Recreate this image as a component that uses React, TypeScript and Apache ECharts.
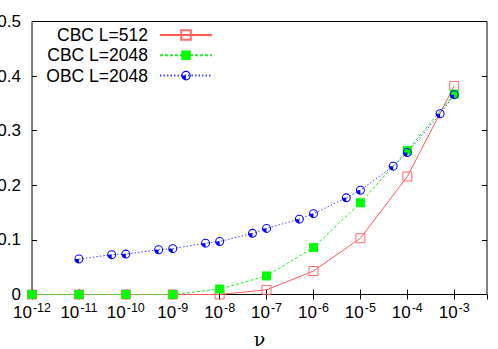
import React, { useEffect, useRef } from 'react';
import * as echarts from 'echarts';

// nu values (x) and order parameter values (y)
const cbcNu = [1e-12, 1e-11, 1e-10, 1e-9, 1e-8, 1e-7, 1e-6, 1e-5, 1e-4, 1e-3];
const cbc512 = [0, 0, 0, 0, 0, 0.0086, 0.043, 0.103, 0.216, 0.382];
const cbc2048 = [0, 0, 0, 0, 0.010, 0.034, 0.086, 0.168, 0.264, 0.367];
const obcNu = [1e-11, 5e-11, 1e-10, 5e-10, 1e-9, 5e-9, 1e-8, 5e-8, 1e-7, 5e-7, 1e-6, 5e-6, 1e-5, 5e-5, 1e-4, 5e-4, 1e-3];
const obc2048 = [0.065, 0.073, 0.074, 0.082, 0.084, 0.094, 0.097, 0.112, 0.121, 0.138, 0.148, 0.177, 0.191, 0.235, 0.26, 0.331, 0.366];
const seriesNames = ['CBC L=512', 'CBC L=2048', 'OBC L=2048'];
const xMin = 1e-12;
const xMax = 5e-3;
const yMin = 0;
const yMax = 0.5;
const yStep = 0.1;

const FONT = 'Liberation Sans';
const OBC_SYMBOL =
  'path://M0 10A10 10 0 1 1 20 10A10 10 0 1 1 0 10Z M2.3 10A7.7 7.7 0 1 0 17.7 10A7.7 7.7 0 1 0 2.3 10Z M10 10L2.3 10A7.7 7.7 0 0 0 10 17.7Z';

const zip = (xs: number[], ys: number[]) => xs.map((x, i) => [x, ys[i]]);

export default function App() {
  const ref = useRef<HTMLDivElement>(null);
  useEffect(() => {
    if (!ref.current) return;
    const chart = echarts.init(ref.current, null, { renderer: 'svg' });
    const tickCommon = { show: true, inside: true, length: 5, lineStyle: { color: '#000', width: 1 } };
    chart.setOption({
      animation: false,
      backgroundColor: '#fff',
      grid: {
        left: 32, right: 11, top: 21.5, bottom: 54.5,
        containLabel: false, outerBoundsMode: 'none',
        show: true, borderColor: '#000', borderWidth: 1, backgroundColor: 'transparent',
      },
      legend: {
        data: seriesNames,
        orient: 'vertical',
        align: 'right',
        right: 285,
        top: 26,
        padding: 0,
        itemGap: 2.3,
        itemWidth: 52,
        itemHeight: 12,
        textStyle: { fontSize: 17.5, fontFamily: FONT, color: '#000', lineHeight: 16, padding: [0, 7, 0, 0] },
      },
      xAxis: [
        {
          type: 'log',
          logBase: 10,
          min: xMin,
          max: xMax,
          splitNumber: 10,
          position: 'bottom',
          axisLine: { show: false },
          axisTick: tickCommon,
          minorTick: { show: false },
          splitLine: { show: false },
          name: 'ν',
          nameLocation: 'middle',
          nameGap: 35,
          nameTextStyle: { fontSize: 19, fontFamily: 'DejaVu Serif', color: '#000' },
          axisLabel: {
            showMaxLabel: false,
            margin: 9,
            color: '#000',
            formatter: (v: number) => `{b|10}{s|${Math.round(Math.log10(v))}}`,
            rich: {
              b: { fontSize: 17, fontFamily: FONT, color: '#000', lineHeight: 17, verticalAlign: 'bottom' },
              s: { fontSize: 12.5, fontFamily: FONT, color: '#000', lineHeight: 12, padding: [0, 0, 6.5, 1], verticalAlign: 'bottom' },
            },
          },
        },
        {
          type: 'log',
          logBase: 10,
          min: xMin,
          max: xMax,
          splitNumber: 10,
          position: 'top',
          axisLine: { show: false },
          axisTick: tickCommon,
          axisLabel: { show: false },
          splitLine: { show: false },
        },
      ],
      yAxis: [
        {
          type: 'value',
          min: yMin,
          max: yMax,
          interval: yStep,
          position: 'left',
          axisLine: { show: false },
          axisTick: tickCommon,
          splitLine: { show: false },
          axisLabel: {
            margin: 11,
            fontSize: 17,
            fontFamily: FONT,
            color: '#000',
            formatter: (v: number) => (v === 0 ? '0' : v.toFixed(1)),
          },
        },
        {
          type: 'value',
          min: yMin,
          max: yMax,
          interval: yStep,
          position: 'right',
          axisLine: { show: false },
          axisTick: tickCommon,
          splitLine: { show: false },
          axisLabel: { show: false },
        },
      ],
      series: [
        {
          name: seriesNames[0],
          type: 'line',
          data: zip(cbcNu, cbc512),
          symbol: 'rect',
          symbolSize: 9,
          lineStyle: { color: '#ff5a5a', width: 1, type: 'solid' },
          itemStyle: { color: 'rgba(255,255,255,0)', borderColor: '#ff6a6a', borderWidth: 1 },
          emphasis: { disabled: true },
        },
        {
          name: seriesNames[1],
          type: 'line',
          data: zip(cbcNu, cbc2048),
          symbol: 'rect',
          symbolSize: 9,
          lineStyle: { color: '#22ee22', width: 1, type: [3, 2] },
          itemStyle: { color: '#00ff00', borderWidth: 0 },
          emphasis: { disabled: true },
        },
        {
          name: seriesNames[2],
          type: 'line',
          data: zip(obcNu, obc2048),
          symbol: OBC_SYMBOL,
          symbolSize: 9,
          symbolKeepAspect: true,
          lineStyle: { color: '#4a4aff', width: 1, type: [1.5, 2] },
          itemStyle: { color: '#0000ff', borderWidth: 0 },
          emphasis: { disabled: true },
        },
      ],
    });
    return () => chart.dispose();
  }, []);
  return <div ref={ref} style={{ position: 'absolute', left: 0, top: 0, width: 498, height: 349 }} />;
}
